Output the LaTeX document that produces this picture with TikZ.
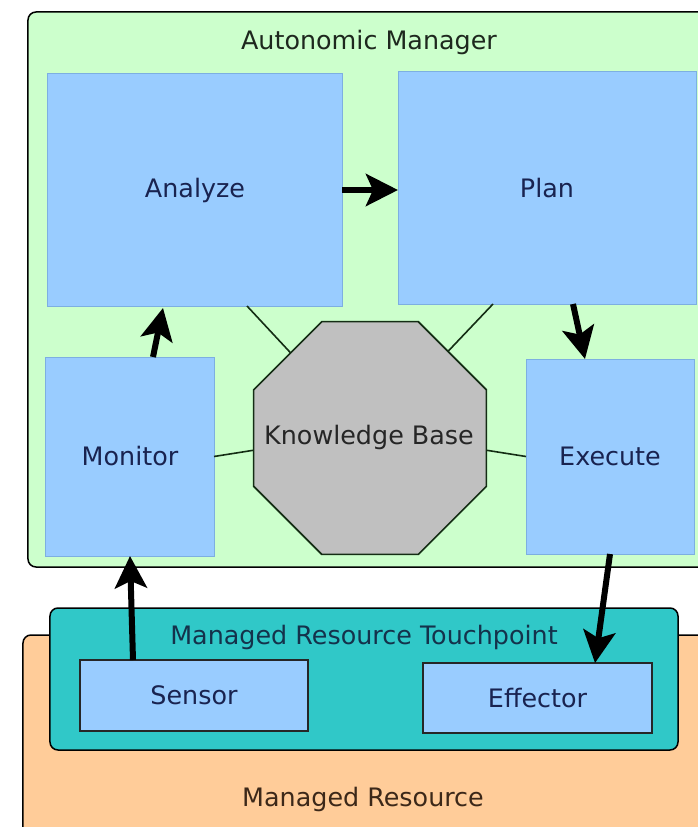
\documentclass[tikz,border=0pt]{standalone}
\usepackage{fontspec}
\setmainfont{DejaVu Sans}
\usetikzlibrary{shapes.geometric,arrows.meta}
\definecolor{amgreen}{RGB}{204,255,204}
\definecolor{boxblue}{RGB}{153,204,255}
\definecolor{boxedge}{RGB}{125,175,225}
\definecolor{kbgray}{RGB}{192,192,192}
\definecolor{tpteal}{RGB}{48,200,200}
\definecolor{mrorange}{RGB}{255,204,153}
\definecolor{navytext}{RGB}{25,35,80}
\definecolor{darktext}{RGB}{30,40,30}
\definecolor{tptext}{RGB}{20,50,75}
\definecolor{mrtext}{RGB}{60,40,25}
\definecolor{linegreen}{RGB}{20,45,20}
\begin{document}
\begin{tikzpicture}[x=1bp,y=-1bp,
  container/.style={draw=black, line width=1.5bp, rounded corners=8bp, inner sep=0pt, outer sep=0pt},
  bigfont/.style={font=\fontsize{25.5}{30}\selectfont},
  bluebox/.style={draw=boxedge, line width=1bp, fill=boxblue, inner sep=0pt, outer sep=0pt, text=navytext, bigfont},
  touchbox/.style={draw=black!85, line width=1.5bp, fill=boxblue, inner sep=0pt, outer sep=0pt, text=navytext, bigfont},
  lbl/.style={bigfont, inner sep=0pt},
  kbline/.style={line width=1.6bp, draw=linegreen},
  arr/.style={line width=6bp, draw=black, -{Stealth[length=32bp,width=32bp,inset=7bp]}}]
\useasboundingbox (0,0) rectangle (698,827);
\clip (0,0) rectangle (698,827);
\fill[white] (0,0) rectangle (698,827);

% containers
\node[container, fill=amgreen, minimum width=692bp, minimum height=555bp] (am) at (374,289.5) {};
\node[container, fill=mrorange, minimum width=697bp, minimum height=215bp] (mr) at (371.5,742.5) {};
\node[container, fill=tpteal, minimum width=628bp, minimum height=142bp] (tp) at (364,679) {};

% container labels
\node[lbl, text=darktext] (amlabel) at (369,42) {Autonomic Manager};
\node[lbl, text=tptext] (tplabel) at (364,637) {Managed Resource Touchpoint};
\node[lbl, text=mrtext] (mrlabel) at (363,799) {Managed Resource};

% MAPE boxes
\node[bluebox, minimum width=294bp, minimum height=232bp] (analyze) at (195,190) {Analyze};
\node[bluebox, minimum width=298bp, minimum height=232bp] (plan) at (547,188) {Plan};
\node[bluebox, minimum width=168bp, minimum height=199bp] (monitor) at (130,456.5) {Monitor};
\node[bluebox, minimum width=168bp, minimum height=195bp] (execute) at (610,456.5) {Execute};

% knowledge base
\node[regular polygon, regular polygon sides=8, minimum size=252bp, draw=linegreen, line width=1.6bp, fill=kbgray, inner sep=0pt, outer sep=0pt] (kb) at (370,438) {};
\node[lbl, text=black!85] (kblabel) at (369,437) {Knowledge Base};

% sensor / effector
\node[touchbox, minimum width=228bp, minimum height=71bp] (sensor) at (194,695.5) {Sensor};
\node[touchbox, minimum width=229bp, minimum height=70bp] (effector) at (537.5,698) {Effector};

% knowledge links
\draw[kbline] ([xshift=199bp]analyze.south west) -- (kb.133);
\draw[kbline] ([xshift=95bp]plan.south west) -- (kb.48);
\draw[kbline] (monitor.east) -- (kb.186);
\draw[kbline] (execute.west) -- (kb.354);

% control arrows
\draw[arr] (analyze.east) -- (analyze.east -| plan.west);
\draw[arr] ([xshift=23bp]monitor.north) -- ([xshift=115bp,yshift=-2bp]analyze.south west);
\draw[arr] ([xshift=175bp]plan.south west) -- ([xshift=59bp]execute.north west);
\draw[arr] ([xshift=53bp]sensor.north west) -- (monitor.south);
\draw[arr] (execute.south) -- ([xshift=172bp]effector.north west);
\end{tikzpicture}
\end{document}
